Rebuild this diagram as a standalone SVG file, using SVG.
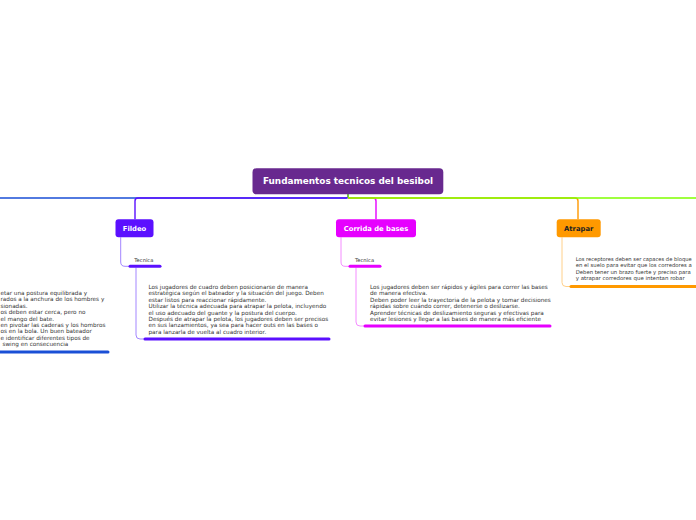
<svg xmlns="http://www.w3.org/2000/svg" width="696" height="520" viewBox="0 0 696 520">
<style>
.main{fill:none;stroke-width:1.4}
.thin{fill:none;stroke-width:1}
.ul{fill:none;stroke-width:3;stroke-linecap:round}
.title{font-family:"DejaVu Sans",Verdana,sans-serif;font-weight:bold;font-size:8.9px;fill:#ffffff;text-anchor:middle}
.nl{font-family:"DejaVu Sans",Verdana,sans-serif;font-weight:bold;font-size:6.8px;text-anchor:middle}
.sub{font-family:"DejaVu Sans",Verdana,sans-serif;font-size:5.2px;fill:#333333}
.body{font-family:"DejaVu Sans",Verdana,sans-serif;font-size:5.7px;fill:#333333}
.edge{font-family:"DejaVu Sans",Verdana,sans-serif;font-size:5.3px;fill:#333333}
</style>
<rect width="696" height="520" fill="#ffffff"/>
<g id="connectors">
  <path class="main" stroke="#1a4fd6" d="M348,194 V196 Q348,198 346,198 H0"/>
  <path class="main" stroke="#5b10ff" d="M348,194 V196 Q348,198 346,198 H138 Q135,198 135,201 V219.3"/>
  <path class="main" stroke="#e600ff" d="M348,198 H373 Q376,198 376,201 V219.3"/>
  <path class="main" stroke="#ff9900" d="M348,198 H575 Q578,198 578,201 V219.3"/>
  <path class="main" stroke="#80ff00" d="M348,194 V196 Q348,198 350,198 H696"/>
  <path class="thin" stroke="#a386ff" d="M120.7,237.3 V262 Q120.7,266.3 125,266.3 H130"/>
  <path class="thin" stroke="#a386ff" d="M136,267.5 V335 Q136,339 140,339 H145"/>
  <path class="thin" stroke="#f48cff" d="M341,237.3 V262 Q341,266.3 345,266.3 H350"/>
  <path class="thin" stroke="#f48cff" d="M356,267.5 V322 Q356,326 360,326 H365"/>
  <path class="thin" stroke="#ffd08a" d="M562,237.3 V282.5 Q562,286.5 566,286.5 H571"/>
</g>
<g id="central">
  <rect x="252.5" y="168.3" width="190.8" height="26" rx="4" fill="#68298f"/>
  <text class="title" x="348" y="184.4">Fundamentos tecnicos del besibol</text>
</g>
<g id="fildeo">
  <rect x="115.5" y="219.3" width="38" height="18" rx="3" fill="#5b10ff"/>
  <text class="nl" x="134.5" y="230.8" fill="#ffffff">Fildeo</text>
</g>
<g id="fildeo-tecnica">
  <text class="sub" x="134.3" y="262">Tecnica</text>
  <path class="ul" stroke="#5b10ff" d="M130,266.3 H160"/>
</g>
<g id="fildeo-texto">
  <text class="body" x="148.5" y="289">Los jugadores de cuadro deben posicionarse de manera</text>
  <text class="body" x="148.5" y="295.4">estratégica según el bateador y la situación del juego. Deben</text>
  <text class="body" x="148.5" y="301.8">estar listos para reaccionar rápidamente.</text>
  <text class="body" x="148.5" y="308.2">Utilizar la técnica adecuada para atrapar la pelota, incluyendo</text>
  <text class="body" x="148.5" y="314.6">el uso adecuado del guante y la postura del cuerpo.</text>
  <text class="body" x="148.5" y="321">Después de atrapar la pelota, los jugadores deben ser precisos</text>
  <text class="body" x="148.5" y="327.4">en sus lanzamientos, ya sea para hacer outs en las bases o</text>
  <text class="body" x="148.5" y="333.8">para lanzarla de vuelta al cuadro interior.</text>
  <path class="ul" stroke="#5b10ff" d="M145,339 H329"/>
</g>
<g id="corrida">
  <rect x="336" y="219.3" width="80" height="18" rx="3" fill="#e600ff"/>
  <text class="nl" x="376" y="230.8" fill="#ffffff">Corrida de bases</text>
</g>
<g id="corrida-tecnica">
  <text class="sub" x="355" y="262">Tecnica</text>
  <path class="ul" stroke="#e600ff" d="M350,266.3 H380"/>
</g>
<g id="corrida-texto">
  <text class="body" x="370" y="289">Los jugadores deben ser rápidos y ágiles para correr las bases</text>
  <text class="body" x="370" y="295.4">de manera efectiva.</text>
  <text class="body" x="370" y="301.8">Deben poder leer la trayectoria de la pelota y tomar decisiones</text>
  <text class="body" x="370" y="308.2">rápidas sobre cuándo correr, detenerse o deslizarse.</text>
  <text class="body" x="370" y="314.6">Aprender técnicas de deslizamiento seguras y efectivas para</text>
  <text class="body" x="370" y="321">evitar lesiones y llegar a las bases de manera más eficiente</text>
  <path class="ul" stroke="#e600ff" d="M365,326 H550"/>
</g>
<g id="atrapar">
  <rect x="556.7" y="219.3" width="44" height="18" rx="3" fill="#ff9900"/>
  <text class="nl" x="578.7" y="230.8" fill="#222222">Atrapar</text>
</g>
<g id="atrapar-texto">
  <text class="edge" x="575.7" y="261" textLength="116" lengthAdjust="spacingAndGlyphs">Los receptores deben ser capaces de bloque</text>
  <text class="edge" x="575.7" y="267.4" textLength="116" lengthAdjust="spacingAndGlyphs">en el suelo para evitar que los corredores a</text>
  <text class="edge" x="575.7" y="273.8" textLength="115" lengthAdjust="spacingAndGlyphs">Deben tener un brazo fuerte y preciso para</text>
  <text class="edge" x="575.7" y="280.2" textLength="109" lengthAdjust="spacingAndGlyphs">y atrapar corredores que intentan robar</text>
  <path class="ul" stroke="#ff9900" d="M571,286.5 H700"/>
</g>
<g id="bateo-texto">
  <text class="body" x="0.5" y="295">etar una postura equilibrada y</text>
  <text class="body" x="0.5" y="301.4">rados a la anchura de los hombres y</text>
  <text class="body" x="0.5" y="307.8">sionadas.</text>
  <text class="body" x="0.5" y="314.2">os deben estar cerca, pero no</text>
  <text class="body" x="0.5" y="320.6">el mango del bate.</text>
  <text class="body" x="0.5" y="327">en pivotar las caderas y los hombros</text>
  <text class="body" x="0.5" y="333.4">os en la bola. Un buen bateador</text>
  <text class="body" x="0.5" y="339.8">e identificar diferentes tipos de</text>
  <text class="body" x="2.5" y="346.2">swing en consecuencia</text>
  <path class="ul" stroke="#1a4fd6" d="M-4,352 H108"/>
</g>
</svg>
